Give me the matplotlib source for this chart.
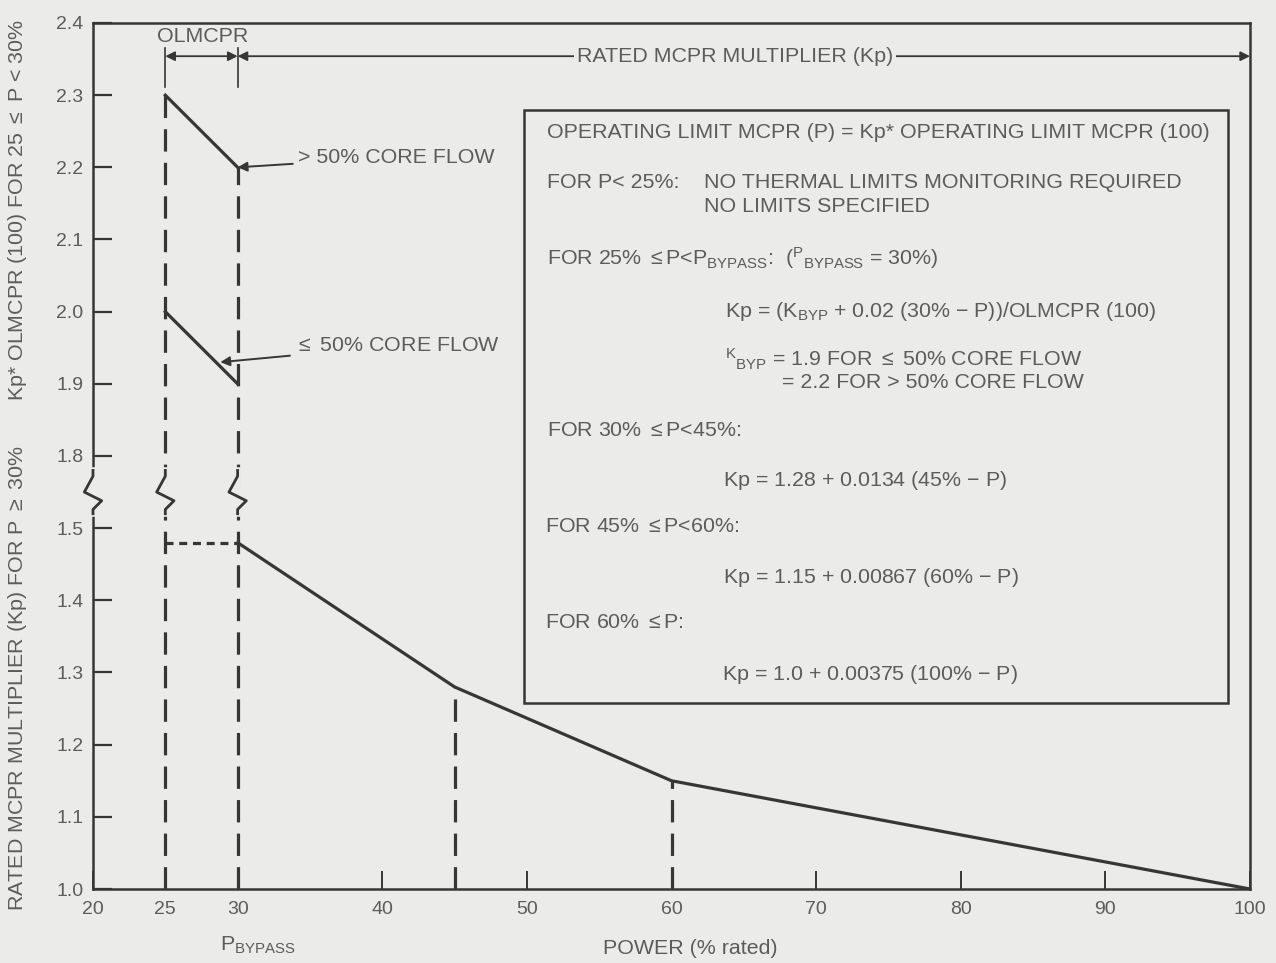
import numpy as np
import matplotlib
matplotlib.use("Agg")
import matplotlib.pyplot as plt
from matplotlib.patches import Rectangle

plt.rcParams['font.family'] = ['Liberation Sans', 'DejaVu Sans']
plt.rcParams['mathtext.fontset'] = 'custom'
plt.rcParams['mathtext.rm'] = 'Liberation Sans'
plt.rcParams['mathtext.it'] = 'Liberation Sans'

# ---- data ----
kp_power = [30, 45, 60, 100]            # % rated power, rated MCPR multiplier curve
kp_value = [1.48, 1.28, 1.15, 1.00]
p_lo, p_byp = 25, 30
high_flow = [2.30, 2.20]                # Kp*OLMCPR(100) at 25% and 30%, >50% core flow
low_flow = [2.00, 1.90]                 # same, <=50% core flow
kp_at_bypass = 1.48
x_ticks = [20, 25, 30, 40, 50, 60, 70, 80, 90, 100]
y_ticks = [1.0, 1.1, 1.2, 1.3, 1.4, 1.5, 1.8, 1.9, 2.0, 2.1, 2.2, 2.3, 2.4]
break_x = [20, 25, 30]

box_lines = [
    # (x pixel, y pixel, text)
    (547, 132, "OPERATING LIMIT MCPR (P) = Kp* OPERATING LIMIT MCPR (100)"),
    (547, 183, "FOR P< 25%:"),
    (704, 183, "NO THERMAL LIMITS MONITORING REQUIRED"),
    (704, 207, "NO LIMITS SPECIFIED"),
    (547, 258, r"FOR 25% $\leq$P<P$_{\mathrm{BYPASS}}$:  ($^{\mathrm{P}}$$_{\mathrm{BYPASS}}$ = 30%)"),
    (725, 311, r"Kp = (K$_{\mathrm{BYP}}$ + 0.02 (30% $-$ P))/OLMCPR (100)"),
    (725, 359, r"$^{\mathrm{K}}$$_{\mathrm{BYP}}$ = 1.9 FOR $\leq$ 50% CORE FLOW"),
    (782, 382, "= 2.2 FOR > 50% CORE FLOW"),
    (547, 430, r"FOR 30% $\leq$P<45%:"),
    (723, 480, r"Kp = 1.28 + 0.0134 (45% $-$ P)"),
    (545, 527, r"FOR 45% $\leq$P<60%:"),
    (723, 577, r"Kp = 1.15 + 0.00867 (60% $-$ P)"),
    (545, 623, r"FOR 60% $\leq$P:"),
    (722, 674, r"Kp = 1.0 + 0.00375 (100% $-$ P)"),
]

BG = '#ebebea'
INK = '#363636'
TXT = '#5c5c5c'
FS = 15.4
TICK_FS = 14


# broken y axis: 1.5 .. 1.8 squeezed into one third of a step
def fwd(y):
    y = np.asarray(y, dtype=float)
    return np.where(y <= 1.5, y, np.where(y >= 1.8, y - 0.2, 1.5 + (y - 1.5) / 3))


def inv(d):
    d = np.asarray(d, dtype=float)
    return np.where(d <= 1.5, d, np.where(d >= 1.6, d + 0.2, 1.5 + (d - 1.5) * 3))


W, H = 1276, 963
fig = plt.figure(figsize=(W / 100, H / 100), dpi=100, facecolor=BG)
ax_l, ax_r, ax_t, ax_b = 93, 1250, 23, 889
ax = fig.add_axes([ax_l / W, 1 - ax_b / H, (ax_r - ax_l) / W, (ax_b - ax_t) / H])
ax.set_facecolor(BG)
ax.set_yscale('function', functions=(fwd, inv))
ax.set_xlim(20, 100)
ax.set_ylim(1.0, 2.4)

for s in ax.spines.values():
    s.set_linewidth(1.8)
    s.set_color(INK)

ax.set_xticks(x_ticks)
ax.set_yticks(y_ticks)
ax.set_yticklabels([f"{v:.1f}" for v in y_ticks])
ax.yaxis.set_minor_locator(matplotlib.ticker.NullLocator())
ax.xaxis.set_minor_locator(matplotlib.ticker.NullLocator())
ax.tick_params(axis='y', direction='in', length=14, width=1.6, color=INK,
               labelsize=TICK_FS, labelcolor=TXT, pad=7)
ax.tick_params(axis='x', direction='in', length=13, width=1.4, color=INK,
               labelsize=TICK_FS, labelcolor=TXT, pad=9)

dash_long = (0, (7, 3.5))

# main rated curve
ax.plot(kp_power, kp_value, color=INK, lw=2.3, solid_capstyle='round', zorder=4)
# vertical dashed guides
ax.plot([p_lo, p_lo], [1.0, high_flow[0]], color=INK, lw=2.3, ls=dash_long)
ax.plot([p_byp, p_byp], [1.0, high_flow[1]], color=INK, lw=2.3, ls=dash_long)
for p, v in zip(kp_power[1:3], kp_value[1:3]):
    ax.plot([p, p], [1.0, v], color=INK, lw=2.3, ls=dash_long)
# dashed horizontal at bypass level
ax.plot([p_lo, p_byp], [kp_at_bypass, kp_at_bypass], color=INK, lw=2.3,
        ls=(0, (2.5, 1.8)))
# OLMCPR lines
ax.plot([p_lo, p_byp], high_flow, color=INK, lw=2.3, zorder=4)
ax.plot([p_lo, p_byp], low_flow, color=INK, lw=2.3, zorder=4)

# axis break zigzags
for bx in break_x:
    dc = 1.55
    xs = [bx, bx, bx - 0.6, bx + 0.6, bx, bx]
    ds = [dc + 0.03, dc + 0.022, dc + 0.0, dc - 0.012, dc - 0.024, dc - 0.03]
    ax.plot([bx, bx], inv([dc + 0.03, dc - 0.03]), color=BG, lw=4, zorder=5,
            clip_on=False)
    ax.plot(xs, inv(ds), color=INK, lw=2.0, zorder=6, clip_on=False)

# top span arrows
y_arrow = 2.354
for p in (p_lo, p_byp):
    ax.plot([p, p], [2.312, 2.366], color=INK, lw=1.2)
arr = dict(arrowstyle='<|-|>', color=INK, lw=1.3, mutation_scale=14,
           shrinkA=0, shrinkB=0)
ax.annotate('', xy=(p_lo, y_arrow), xytext=(p_byp, y_arrow), arrowprops=arr)
ax.annotate('', xy=(p_byp, y_arrow), xytext=(100, y_arrow), arrowprops=arr)
ax.text(27.6, 2.381, "OLMCPR", ha='center', va='center', fontsize=FS, color=TXT)
ax.text(64.4, y_arrow, "RATED MCPR MULTIPLIER (Kp)", ha='center', va='center',
        fontsize=FS, color=TXT,
        bbox=dict(boxstyle='square,pad=0.15', fc=BG, ec='none'))

# flow labels with arrows
ax.annotate("> 50% CORE FLOW", xy=(p_byp, high_flow[1]), xytext=(34.2, 2.214),
            ha='left', va='center', fontsize=FS, color=TXT,
            arrowprops=dict(arrowstyle='-|>', color=INK, lw=1.4,
                            mutation_scale=14, shrinkA=2, shrinkB=0))
ax.annotate(r"$\leq$ 50% CORE FLOW", xy=(p_byp - 1.2, 1.93), xytext=(34.0, 1.953),
            ha='left', va='center', fontsize=FS, color=TXT,
            arrowprops=dict(arrowstyle='-|>', color=INK, lw=1.4,
                            mutation_scale=14, shrinkA=2, shrinkB=0))

# formula box
bx0, bx1, by0, by1 = 524, 1228, 110, 703
ax.add_patch(Rectangle(((bx0 - ax_l) / (ax_r - ax_l), (ax_b - by1) / (ax_b - ax_t)),
                       (bx1 - bx0) / (ax_r - ax_l), (by1 - by0) / (ax_b - ax_t),
                       transform=ax.transAxes, fill=False, ec=INK, lw=1.8, zorder=3))
for px, py, s in box_lines:
    fig.text(px / W, 1 - py / H, s, ha='left', va='center', fontsize=FS, color=TXT)

# axis titles
fig.text(258 / W, 1 - 945 / H, r"P$_{\mathrm{BYPASS}}$", ha='center', va='center',
         fontsize=FS, color=TXT)
fig.text(690 / W, 1 - 948 / H, "POWER (% rated)", ha='center', va='center',
         fontsize=FS, color=TXT)
fig.text(18 / W, 1 - 678 / H, r"RATED MCPR MULTIPLIER (Kp) FOR P $\geq$ 30%",
         rotation=90, ha='center', va='center', fontsize=FS, color=TXT)
fig.text(18 / W, 1 - 210 / H, r"Kp* OLMCPR (100) FOR 25 $\leq$ P < 30%",
         rotation=90, ha='center', va='center', fontsize=FS, color=TXT)

fig.savefig("out.png", dpi=100, facecolor=BG)
